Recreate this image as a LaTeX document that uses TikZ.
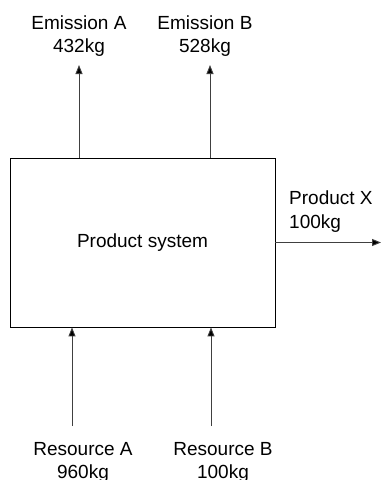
\documentclass[tikz,border=0pt]{standalone}
\usepackage{fontspec}
\setmainfont{Liberation Sans}
\usetikzlibrary{arrows.meta}
\begin{document}
\begin{tikzpicture}[x=1pt,y=-1pt,
  lbl/.style={align=center,font=\fontsize{19}{23.5}\selectfont,inner sep=0pt},
  flow/.style={draw=black!75,line width=0.9pt,-{Triangle[length=9pt,width=7pt,fill=black]}},
  sysbox/.style={draw=black,line width=0.8pt,minimum width=265pt,minimum height=169pt,inner sep=0pt,font=\fontsize{19}{23.5}\selectfont}]
\useasboundingbox (0,0) rectangle (383,480);
\node[sysbox] (box) at (142.5,242.5) {Product system};
\node[lbl] (ea) at (79,36) {Emission A\\432kg};
\node[lbl] (eb) at (205,36) {Emission B\\528kg};
\node[lbl,anchor=west,align=left] (px) at (289,211.5) {Product X\\100kg};
\node[lbl] (ra) at (83,462.5) {Resource A\\960kg};
\node[lbl] (rb) at (223,462.5) {Resource B\\100kg};
\coordinate (eat) at (79,65);
\coordinate (ebt) at (210,65);
\coordinate (pxt) at (381,242.5);
\coordinate (ras) at (72,426);
\coordinate (rbs) at (211,426);
\draw[flow] (box.north -| eat) -- (eat);
\draw[flow] (box.north -| ebt) -- (ebt);
\draw[flow] (box.east) -- (pxt);
\draw[flow] (ras) -- (box.south -| ras);
\draw[flow] (rbs) -- (box.south -| rbs);
\end{tikzpicture}
\end{document}
